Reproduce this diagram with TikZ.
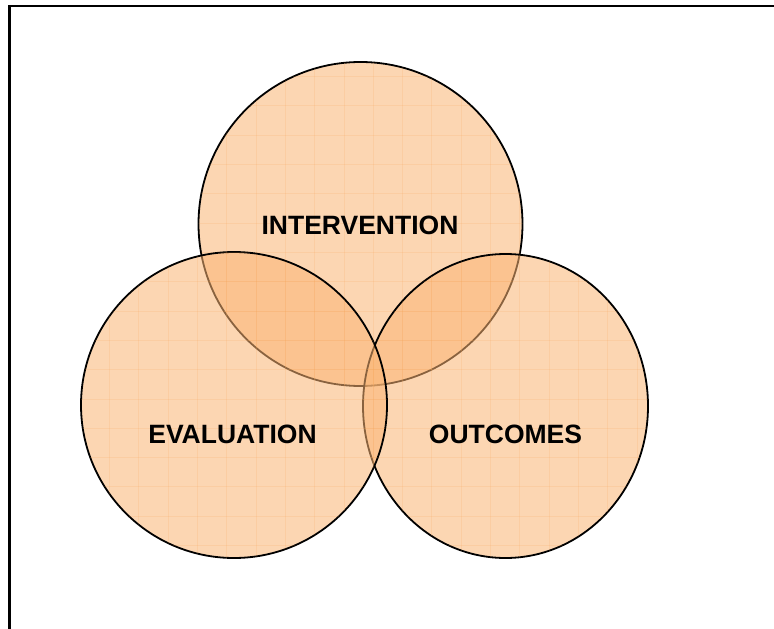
\documentclass[tikz,border=0pt]{standalone}
\usepackage{fontspec}
\setmainfont{Liberation Sans}
\usetikzlibrary{shapes.geometric}
\definecolor{vennfill}{RGB}{250,180,115}
\definecolor{gridcol}{RGB}{245,160,80}
\tikzset{
  venn/.style={draw=black, line width=1.8bp, fill=vennfill, fill opacity=0.55, inner sep=0pt, outer sep=0pt},
  gridline/.style={draw=gridcol, line width=0.8bp, opacity=0.16},
  label/.style={font=\fontsize{26.6}{30}\selectfont\bfseries, text=black, inner sep=0pt}
}
\newcommand{\vgrid}{%
  \foreach \i in {0,...,20} {\draw[gridline] ({80.2+29.3*\i},40) -- ({80.2+29.3*\i},600);}
  \foreach \j in {0,...,19} {\draw[gridline] (60,{47.3+29.3*\j}) -- (700,{47.3+29.3*\j});}
}
\begin{document}
\begin{tikzpicture}[x=1bp, y=-1bp]
\useasboundingbox (0,0) rectangle (774,629);
\clip (0,0) rectangle (774,629);
% frame
\draw[line width=2.5bp] (9.5,640) -- (9.5,6) -- (790,6);
% intervention
\node[venn, circle, minimum size=324bp] (interv) at (360.5,224) {};
\begin{scope}
  \clip (360.5,224) circle (162);
  \vgrid
\end{scope}
% outcomes
\node[venn, ellipse, minimum width=285bp, minimum height=304bp] (outc) at (505.5,406) {};
\begin{scope}
  \clip (505.5,406) ellipse (142.5 and 152);
  \vgrid
\end{scope}
% evaluation
\node[venn, circle, minimum size=306bp] (evalc) at (234,405) {};
\begin{scope}
  \clip (234,405) circle (153);
  \vgrid
\end{scope}
% labels
\node[label] (tinterv) at (360,225) {INTERVENTION};
\node[label] (teval) at (232.5,434) {EVALUATION};
\node[label] (toutc) at (505.5,434) {OUTCOMES};
\end{tikzpicture}
\end{document}
